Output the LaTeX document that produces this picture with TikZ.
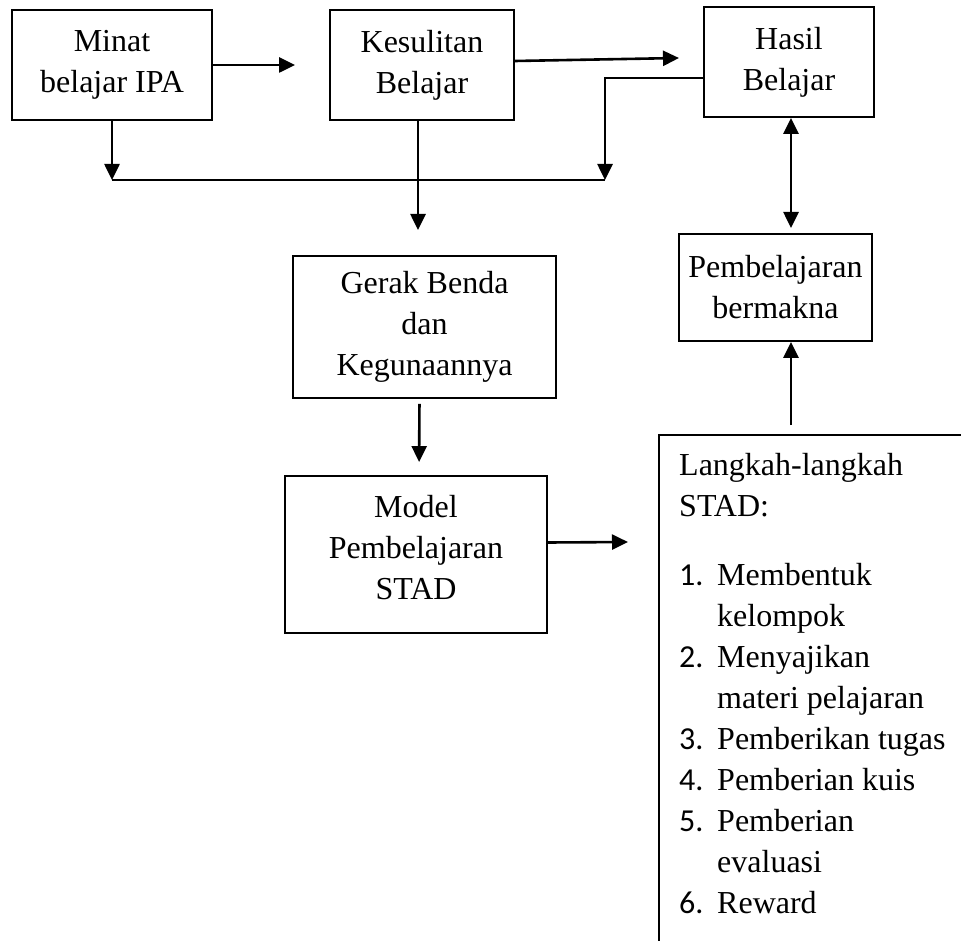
\documentclass[tikz,border=0pt]{standalone}
\usepackage{fontspec}
\setmainfont{Liberation Serif}
\newfontfamily\numfont{Carlito}
\usetikzlibrary{arrows.meta}
\newcommand\itemnum[1]{\makebox[38pt][l]{\numfont #1}}
\newcommand\itemgap{\hspace*{38pt}}
\tikzset{
  box/.style={draw=black,line width=1.9pt,inner sep=0pt,align=center},
  conn/.style={line width=2.6pt,-{Triangle[length=16pt,width=15pt]}},
}
\begin{document}
\begin{tikzpicture}[x=1pt,y=-1pt,font=\fontsize{32}{41}\selectfont]
\useasboundingbox (0,0) rectangle (961,941);
\clip (0,0) rectangle (961,941);
\node[box,minimum width=200pt,minimum height=110pt] (minat) at (112,65) {Minat\\belajar IPA};
\node[box,minimum width=184pt,minimum height=110pt] (kesulitan) at (422,65) {Kesulitan\\Belajar};
\node[box,minimum width=170pt,minimum height=110pt] (hasil) at (789,62) {Hasil\\Belajar};
\node[box,minimum width=193pt,minimum height=107pt] (bermakna) at (775.5,287.5) {Pembelajaran\\bermakna};
\node[box,minimum width=263pt,minimum height=142pt] (gerak) at (424.5,327) {Gerak Benda\\dan\\Kegunaannya};
\node[box,minimum width=262pt,minimum height=157pt,text depth=14pt] (model) at (416,554.5) {Model\\Pembelajaran\\STAD};
% langkah box, cut off at the page edge
\draw[line width=1.9pt] (659,435) rectangle (1000,1000);
\node[anchor=north west,inner sep=0pt,align=left] (langkah) at (679,453) {Langkah-langkah\\STAD:\\[28pt]
\itemnum{1.}Membentuk\\\itemgap kelompok\\
\itemnum{2.}Menyajikan\\\itemgap materi pelajaran\\
\itemnum{3.}Pemberikan tugas\\
\itemnum{4.}Pemberian kuis\\
\itemnum{5.}Pemberian\\\itemgap evaluasi\\
\itemnum{6.}Reward};
\coordinate (m1) at (295,65);
\coordinate (k2) at (679,58);
\coordinate (h2) at (605,180);
\coordinate (j1) at (112,180);
\coordinate (k3) at (418,230);
\coordinate (m2) at (628,542);
\coordinate (p1) at (791,228);
\coordinate (l1) at (791,425);
\draw[conn] (minat.east) -- (m1);
\draw[conn] ([yshift=4pt]kesulitan.east) -- (k2);
\draw[conn] ([yshift=-16pt]hasil.west) -| (h2);
\draw[conn] (minat.south) -- (j1);
\draw[line width=2.6pt] (j1) -- (h2);
\draw[conn] ([xshift=-4pt]kesulitan.south) -- (k3);
\draw[conn,shorten <=5pt,shorten >=13pt] ([xshift=-5pt]gerak.south) -- ([xshift=3pt]model.north);
\draw[conn] ([yshift=12pt]model.east) -- (m2);
\draw[conn,{Triangle[length=16pt,width=15pt]}-{Triangle[length=16pt,width=15pt]}] ([xshift=2pt]hasil.south) -- (p1);
\draw[conn] (l1) -- (l1|-bermakna.south);
\end{tikzpicture}
\end{document}
